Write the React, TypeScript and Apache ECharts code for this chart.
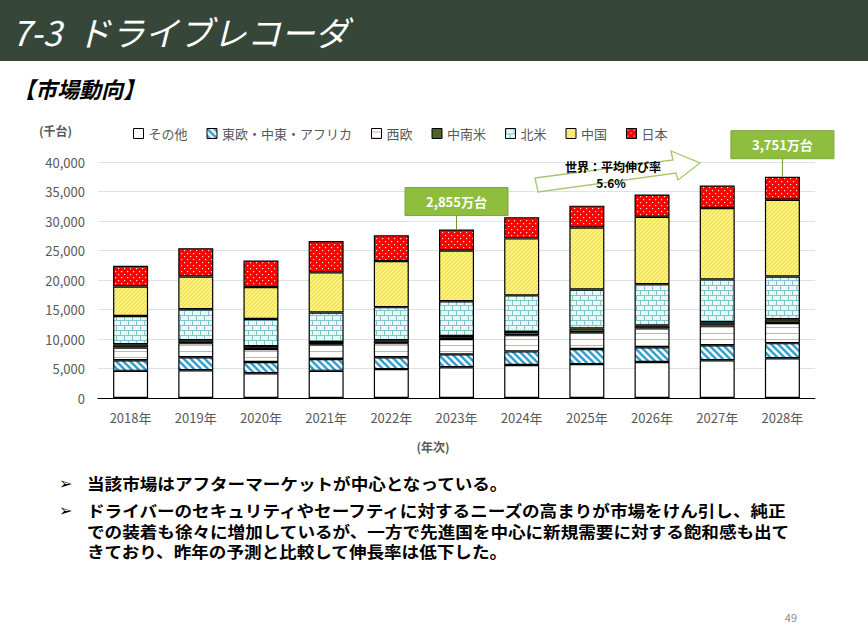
import React, { useEffect, useRef } from "react";
import * as echarts from "echarts";

const years = ["2018年", "2019年", "2020年", "2021年", "2022年", "2023年", "2024年", "2025年", "2026年", "2027年", "2028年"];
const seriesNames = ["その他", "東欧・中東・アフリカ", "西欧", "中南米", "北米", "中国", "日本"];
const other = [4600, 4700, 4200, 4600, 4900, 5200, 5600, 5750, 6100, 6400, 6750];
const eeMea = [1800, 2200, 1900, 2000, 2000, 2200, 2300, 2550, 2500, 2550, 2550];
const wEurope = [2150, 2400, 2200, 2500, 2400, 2600, 2750, 2850, 3200, 3350, 3400];
const latam = [550, 500, 500, 400, 500, 500, 550, 650, 500, 550, 650];
const nAmerica = [4800, 5250, 4600, 5000, 5600, 5900, 6200, 6600, 7000, 7250, 7250];
const china = [5000, 5550, 5400, 6800, 7800, 8600, 9650, 10500, 11400, 12100, 13000];
const japan = [3500, 4800, 4500, 5300, 4400, 3550, 3600, 3700, 3800, 3800, 3910];
const calloutIdx = [5, 10];
const yTicks = { min: 0, max: 40000, interval: 5000 };

const FONT = "'Noto Sans CJK JP', 'Noto Sans', sans-serif";
const NUMFONT = "'Liberation Sans Narrow', 'Noto Sans CJK JP', sans-serif";

function tile(w: number, h: number, bg: string, body: string) {
  const svg = `<svg xmlns='http://www.w3.org/2000/svg' width='${w}' height='${h}'><rect width='${w}' height='${h}' fill='${bg}'/>${body}</svg>`;
  return {
    image: "data:image/svg+xml;charset=utf-8," + encodeURIComponent(svg),
    repeat: "repeat",
    imageWidth: w,
    imageHeight: h,
  };
}

const patterns: any[] = [
  "#ffffff",
  tile(7, 7, "#ffffff", "<path d='M-1,-1 L8,8 M-1,6 L8,15 M-1,-8 L8,1' stroke='#35a2cf' stroke-width='2.6'/>"),
  tile(6, 6, "#ffffff", "<path d='M0,3.5 L6,3.5' stroke='#e9a3aa' stroke-width='1'/>"),
  "#4f6228",
  tile(8, 10, "#e9f7f7", "<path d='M0,0.5 L8,0.5 M0,5.5 L8,5.5 M0.5,0 L0.5,5 M4.5,5 L4.5,10' stroke='#7fc6cc' stroke-width='1'/>"),
  tile(4, 4, "#f4e46a", "<path d='M-1,5 L5,-1 M-1,1 L1,-1 M3,5 L5,3' stroke='#fff6c2' stroke-width='1'/>"),
  tile(6, 6, "#ff0000", "<rect x='1' y='1' width='1.2' height='1.2' fill='#ffe0e0'/><rect x='4' y='4' width='1.2' height='1.2' fill='#ffe0e0'/>"),
];

const dataSets = [other, eeMea, wEurope, latam, nAmerica, china, japan];

export default function App() {
  const ref = useRef<HTMLDivElement>(null);
  useEffect(() => {
    if (!ref.current) return;
    const chart = echarts.init(ref.current, undefined, { renderer: "svg" });
    const option: any = {
      animation: false,
      backgroundColor: "#ffffff",
      grid: { left: 98, right: 53, top: 162, bottom: 246, containLabel: false },
      legend: {
        left: 128,
        top: 122,
        itemWidth: 10,
        itemHeight: 10,
        itemGap: 19,
        icon: "rect",
        itemStyle: { borderColor: "#000", borderWidth: 1 },
        textStyle: { color: "#595959", fontSize: 13, fontFamily: FONT },
        data: seriesNames,
      },
      xAxis: {
        type: "category",
        data: years,
        axisLine: { lineStyle: { color: "#000", width: 1 } },
        axisTick: { show: false },
        axisLabel: { color: "#595959", fontSize: 13, margin: 13, fontFamily: NUMFONT },
      },
      yAxis: {
        type: "value",
        min: yTicks.min,
        max: yTicks.max,
        interval: yTicks.interval,
        axisLine: { show: false },
        axisTick: { show: false },
        axisLabel: {
          color: "#595959",
          fontSize: 13,
          margin: 13,
          fontFamily: NUMFONT,
          formatter: (v: number) => v.toLocaleString("en-US"),
        },
        splitLine: { lineStyle: { color: "#d9e5e5", width: 1 } },
      },
      series: seriesNames.map((name, i) => ({
        name,
        type: "bar",
        stack: "total",
        barWidth: 35,
        data: dataSets[i],
        itemStyle: { color: patterns[i], borderColor: "#000", borderWidth: 1.2 },
        emphasis: { disabled: true },
      })),
    };
    chart.setOption(option);

    const totals = years.map((_, j) => dataSets.reduce((s, d) => s + d[j], 0));
    const callouts: any[] = [];
    calloutIdx.forEach((j, k) => {
      const p = chart.convertToPixel({ gridIndex: 0 }, [j, totals[j]]) as number[];
      const gap = k === 0 ? 14 : 18;
      const bw = 103, bh = 28;
      const bx = p[0] - bw / 2;
      const by = p[1] - gap - bh;
      const label = Math.round(totals[j] / 10).toLocaleString("en-US") + "万台";
      callouts.push(
        { type: "line", shape: { x1: p[0], y1: by + bh, x2: p[0], y2: p[1] }, style: { stroke: "#6e9a2c", lineWidth: 1 }, z: 100 },
        { type: "rect", shape: { x: bx, y: by, width: bw, height: bh }, style: { fill: "#8fbe3f", stroke: "#7aa834", lineWidth: 1 }, z: 100 },
        {
          type: "text",
          x: p[0],
          y: by + bh / 2,
          style: { text: label, fill: "#ffffff", fontSize: 13, fontWeight: "bold", fontFamily: FONT, align: "center", verticalAlign: "middle" },
          z: 101,
        }
      );
    });

    const bodyLines = [
      { t: "当該市場はアフターマーケットが中心となっている。", y: 483 },
      { t: "ドライバーのセキュリティやセーフティに対するニーズの高まりが市場をけん引し、純正", y: 510 },
      { t: "での装着も徐々に増加しているが、一方で先進国を中心に新規需要に対する飽和感も出て", y: 531 },
      { t: "きており、昨年の予測と比較して伸長率は低下した。", y: 551 },
    ];

    const graphic: any[] = [
      { type: "rect", shape: { x: 0, y: 0, width: 868, height: 61 }, style: { fill: "#36473a" }, z: 50 },
      {
        type: "text",
        x: 12,
        y: 31,
        style: { text: "7-3  ドライブレコーダ", fill: "#ffffff", fontSize: 34, fontStyle: "italic", fontFamily: FONT, verticalAlign: "middle" },
        z: 51,
      },
      {
        type: "text",
        x: 13,
        y: 88,
        style: { text: "【市場動向】", fill: "#000", fontSize: 22, fontWeight: "bold", fontStyle: "italic", fontFamily: FONT, verticalAlign: "middle" },
        z: 51,
      },
      {
        type: "text",
        x: 39,
        y: 130,
        style: { text: "(千台)", fill: "#595959", fontSize: 12, fontWeight: "bold", fontFamily: FONT, verticalAlign: "middle" },
      },
      {
        type: "text",
        x: 433,
        y: 446,
        style: { text: "(年次)", fill: "#595959", fontSize: 12, fontWeight: "bold", fontFamily: FONT, align: "center", verticalAlign: "middle" },
      },
      {
        type: "polygon",
        shape: { points: [[535, 178], [673, 160], [671, 151], [700, 163], [678, 180], [676, 173], [538, 192]] },
        style: { fill: "#ffffff", stroke: "#a8c56c", lineWidth: 1.3 },
        z: 90,
      },
      {
        type: "text",
        x: 613,
        y: 166,
        style: { text: "世界：平均伸び率", fill: "#000", fontSize: 12, fontWeight: "bold", fontFamily: FONT, align: "center", verticalAlign: "middle" },
        z: 91,
      },
      {
        type: "text",
        x: 611,
        y: 182,
        style: { text: "5.6%", fill: "#000", fontSize: 12, fontWeight: "bold", fontFamily: FONT, align: "center", verticalAlign: "middle" },
        z: 91,
      },
      ...[0, 1].map((i) => ({
        type: "text",
        x: 59,
        y: bodyLines[i].y,
        style: { text: "➢", fill: "#000", fontSize: 16, fontWeight: "bold", fontFamily: "'DejaVu Sans', sans-serif", verticalAlign: "middle" },
      })),
      ...bodyLines.map((l) => ({
        type: "text",
        x: 87,
        y: l.y,
        scaleX: 1.1,
        style: { text: l.t, fill: "#000", fontSize: 16, lineHeight: 18, fontWeight: "bold", fontFamily: FONT, verticalAlign: "middle" },
      })),
      {
        type: "text",
        x: 797,
        y: 617,
        style: { text: "49", fill: "#8c8c8c", fontSize: 11, fontFamily: NUMFONT, align: "right", verticalAlign: "middle" },
      },
      ...callouts,
    ];
    chart.setOption({ graphic });

    return () => chart.dispose();
  }, []);
  return <div ref={ref} style={{ position: "fixed", left: 0, top: 0, width: 868, height: 644 }} />;
}
